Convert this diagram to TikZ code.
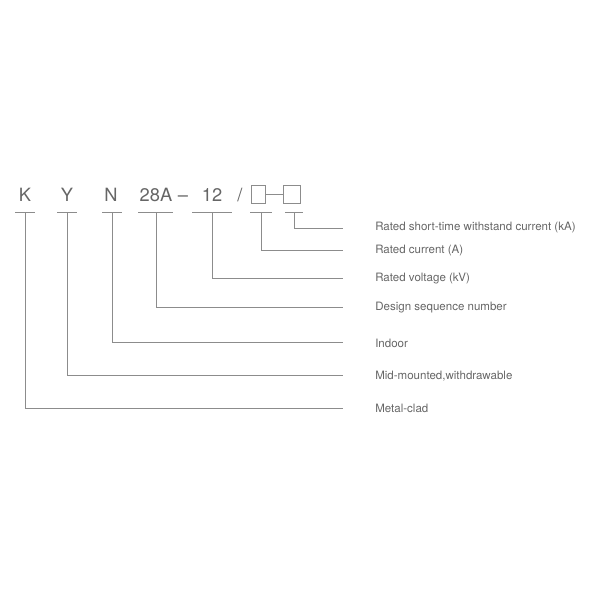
\documentclass[tikz,border=0pt]{standalone}
\usepackage{fontspec}
\setmainfont{TeX Gyre Heros}
\definecolor{ink}{HTML}{666666}
\definecolor{wire}{HTML}{8C8C8C}

\begin{document}
\begin{tikzpicture}[x=0.025cm,y=-0.025cm,
  code/.style={text=ink,font=\fontsize{13}{13}\selectfont,inner sep=0pt,anchor=base},
  lab/.style={text=ink,font=\fontsize{8.2}{9}\selectfont,inner sep=0pt,anchor=west},
  slot/.style={draw=wire,line width=0.6pt,minimum height=12.8pt,inner sep=0pt},
  lead/.style={draw=wire,line width=0.6pt}]
  \useasboundingbox (0,0) rectangle (600,600);
  % type code
  \node[code](k) at (25,201){K};
  \node[code](y) at (67,201){Y};
  \node[code](n) at (111,201){N};
  \node[code](d) at (156,201){28A};
  \node[code](dash) at (183,201){–};
  \node[code](v) at (212,201){12};
  \node[code](sl) at (240,201){/};
  \node[slot,minimum width=9.9pt](b1) at (258,194){};
  \node[slot,minimum width=12pt](b2) at (292,194){};
  \draw[lead] (b1) -- (b2);
  % ticks under the code
  \coordinate(kt) at (25,212);
  \coordinate(yt) at (67,212);
  \coordinate(nt) at (112,212);
  \coordinate(dt) at (156,212);
  \coordinate(vt) at (212,212);
  \coordinate(rt) at (261,212);
  \coordinate(st) at (294,212);
  \draw[lead] (15,212) -- (35,212);
  \draw[lead] (57,212) -- (77,212);
  \draw[lead] (102,212) -- (122,212);
  \draw[lead] (138,212) -- (173,212);
  \draw[lead] (192,212) -- (232,212);
  \draw[lead] (250,212) -- (272,212);
  \draw[lead] (285,212) -- (303,212);
  % labels
  \node[lab](ls) at (375,228){Rated short-time withstand current (kA)};
  \node[lab](lr) at (375,251){Rated current (A)};
  \node[lab](lv) at (375,279){Rated voltage (kV)};
  \node[lab](ld) at (375,308){Design sequence number};
  \node[lab](ln) at (375,343){Indoor};
  \node[lab](ly) at (375,376){Mid-mounted,withdrawable};
  \node[lab](lk) at (375,408){Metal-clad};
  \coordinate(es) at (343,228);
  \coordinate(er) at (343,250);
  \coordinate(ev) at (343,278);
  \coordinate(ed) at (343,307);
  \coordinate(en) at (343,342);
  \coordinate(ey) at (343,375);
  \coordinate(ek) at (343,408);
  \draw[lead] (st) |- (es);
  \draw[lead] (rt) |- (er);
  \draw[lead] (vt) |- (ev);
  \draw[lead] (dt) |- (ed);
  \draw[lead] (nt) |- (en);
  \draw[lead] (yt) |- (ey);
  \draw[lead] (kt) |- (ek);
\end{tikzpicture}
\end{document}
